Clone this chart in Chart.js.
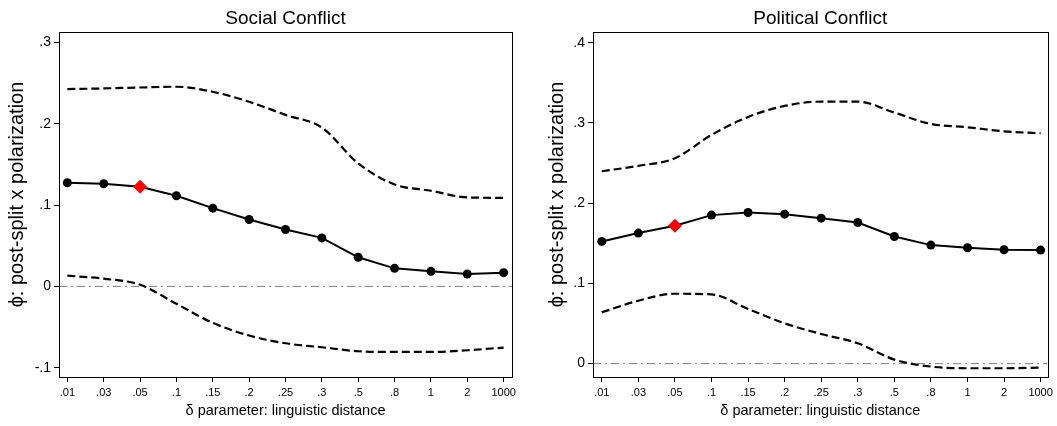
<!DOCTYPE html>
<html>
<head>
<meta charset="utf-8">
<script src="https://cdn.jsdelivr.net/npm/chart.js@4.4.1/dist/chart.umd.min.js"></script>
<style>
  body { margin: 0; background: #fff; }
  #wrap { position: relative; width: 1057px; height: 426px; }
  .panel { position: absolute; top: 0; }
</style>
</head>
<body>
<div id="wrap">
  <div class="panel" style="left:0"><canvas id="socialChart" width="528" height="426"></canvas></div>
  <div class="panel" style="left:528px"><canvas id="politicalChart" width="529" height="426"></canvas></div>
</div>
<script>
/* Data */
const deltaLabels = ['.01', '.03', '.05', '.1', '.15', '.2', '.25', '.3', '.5', '.8', '1', '2', '1000'];
const chosenDelta = '.05';

const socialEstimate = [0.1275, 0.1263, 0.1226, 0.1115, 0.0963, 0.0823, 0.0700, 0.0597, 0.0358, 0.0222, 0.0185, 0.0152, 0.0169];
const socialUpper = [0.2428, 0.2436, 0.2448, 0.2457, 0.2395, 0.2272, 0.2111, 0.1955, 0.1514, 0.1255, 0.1177, 0.1095, 0.1090];
const socialLower = [0.0132, 0.0095, 0.0020, -0.0214, -0.0449, -0.0605, -0.0700, -0.0749, -0.0798, -0.0807, -0.0807, -0.0786, -0.0753];
const socialYTicks = [-0.1, 0, 0.1, 0.2, 0.3];

const politicalEstimate = [0.1523, 0.1627, 0.1718, 0.1851, 0.1884, 0.1863, 0.1813, 0.1759, 0.1585, 0.1477, 0.1444, 0.1419, 0.1415];
const politicalUpper = [0.2398, 0.2465, 0.2560, 0.2851, 0.3075, 0.3212, 0.3266, 0.3266, 0.3129, 0.2988, 0.2946, 0.2896, 0.2871];
const politicalLower = [0.0639, 0.0784, 0.0871, 0.0863, 0.0680, 0.0502, 0.0369, 0.0253, 0.0050, -0.0037, -0.0058, -0.0058, -0.0050];
const politicalYTicks = [0, 0.1, 0.2, 0.3, 0.4];

const yTitle = '\u03d5: post-split x polarization';
const xTitle = '\u03b4 parameter: linguistic distance';
const FONT = "'Liberation Sans', Arial, sans-serif";

function toPoints(values) {
  return values.map((v, i) => ({ x: i, y: v }));
}

function tickLabel(v) {
  if (v === 0) return '0';
  return String(Math.round(v * 10) / 10).replace('0.', '.');
}

/* box round the plot region + rotated y title */
const framePlugin = {
  id: 'frame',
  afterDraw(chart, args, opts) {
    const { ctx, chartArea: a } = chart;
    ctx.save();
    ctx.strokeStyle = '#000';
    ctx.lineWidth = 1;
    ctx.strokeRect(Math.round(a.left) + 0.5, Math.round(a.top) + 0.5,
      Math.round(a.right - a.left), Math.round(a.bottom - a.top));
    ctx.translate(opts.titleX, opts.titleY);
    ctx.rotate(-Math.PI / 2);
    ctx.fillStyle = '#000';
    ctx.font = '20px ' + FONT;
    ctx.textAlign = 'center';
    ctx.textBaseline = 'middle';
    ctx.fillText(yTitle, 0, 0);
    ctx.restore();
  }
};

function makeChart(id, cfg) {
  const ctx = document.getElementById(id).getContext('2d');
  const hi = deltaLabels.indexOf(chosenDelta);
  const styles = deltaLabels.map((_, i) => i === hi ? 'rectRot' : 'circle');
  const colors = deltaLabels.map((_, i) => i === hi ? '#ff0000' : '#000');
  const radii = deltaLabels.map((_, i) => i === hi ? 7 : 4.5);

  return new Chart(ctx, {
    type: 'line',
    data: {
      datasets: [
        {
          data: toPoints(cfg.estimate),
          borderColor: '#000',
          borderWidth: 2,
          pointStyle: styles,
          pointRadius: radii,
          pointBackgroundColor: colors,
          pointBorderColor: colors,
          pointBorderWidth: 0,
          tension: 0,
          order: 0
        },
        {
          data: toPoints(cfg.upper),
          borderColor: '#000',
          borderWidth: 2.2,
          borderDash: [8, 4],
          pointRadius: 0,
          cubicInterpolationMode: 'monotone',
          order: 1
        },
        {
          data: toPoints(cfg.lower),
          borderColor: '#000',
          borderWidth: 2.2,
          borderDash: [8, 4],
          pointRadius: 0,
          cubicInterpolationMode: 'monotone',
          order: 1
        },
        {
          // reference line at zero
          data: [{ x: cfg.xMin, y: 0 }, { x: cfg.xMax, y: 0 }],
          borderColor: '#808080',
          borderWidth: 1,
          borderDash: [8, 4, 2, 4],
          pointRadius: 0,
          order: 2
        }
      ]
    },
    options: {
      responsive: false,
      animation: false,
      layout: { padding: { left: 0, right: cfg.padRight, top: 0, bottom: 0 } },
      plugins: {
        legend: { display: false },
        tooltip: { enabled: false },
        title: {
          display: true,
          text: cfg.title,
          fullSize: false,
          color: '#000',
          font: { family: FONT, size: 19, weight: 'normal' },
          padding: { top: 7, bottom: 2.5 }
        },
        frame: { titleX: cfg.titleX, titleY: 194.5 }
      },
      scales: {
        x: {
          type: 'linear',
          min: cfg.xMin,
          max: cfg.xMax,
          afterBuildTicks: s => { s.ticks = deltaLabels.map((_, i) => ({ value: i })); },
          afterFit: s => { s.height = 49; },
          border: { display: false },
          grid: { drawOnChartArea: false, drawTicks: true, tickLength: 5, color: '#000' },
          ticks: {
            autoSkip: false,
            maxRotation: 0,
            padding: 4,
            color: '#000',
            font: { family: FONT, size: 11 },
            callback: v => deltaLabels[v]
          },
          title: {
            display: true,
            text: xTitle,
            color: '#000',
            font: { family: FONT, size: 14.5 },
            padding: { top: 0, bottom: 6 }
          }
        },
        y: {
          min: cfg.yMin,
          max: cfg.yMax,
          afterBuildTicks: s => { s.ticks = cfg.yTicks.map(v => ({ value: v })); },
          afterFit: s => { s.width = cfg.yWidth; },
          border: { display: false },
          grid: { drawOnChartArea: false, drawTicks: true, tickLength: 5, color: '#000' },
          ticks: {
            padding: 3,
            color: '#000',
            font: { family: FONT, size: 14 },
            callback: v => tickLabel(v)
          }
        }
      }
    },
    plugins: [framePlugin]
  });
}

makeChart('socialChart', {
  title: 'Social Conflict',
  estimate: socialEstimate, upper: socialUpper, lower: socialLower,
  yTicks: socialYTicks, yMin: -0.1115, yMax: 0.3127,
  xMin: -0.23, xMax: 12.23,
  yWidth: 59, padRight: 16, titleX: 17.5
});

makeChart('politicalChart', {
  title: 'Political Conflict',
  estimate: politicalEstimate, upper: politicalUpper, lower: politicalLower,
  yTicks: politicalYTicks, yMin: -0.0167, yMax: 0.413,
  xMin: -0.24, xMax: 12.19,
  yWidth: 65, padRight: 7.5, titleX: 29.5
});
</script>
</body>
</html>
